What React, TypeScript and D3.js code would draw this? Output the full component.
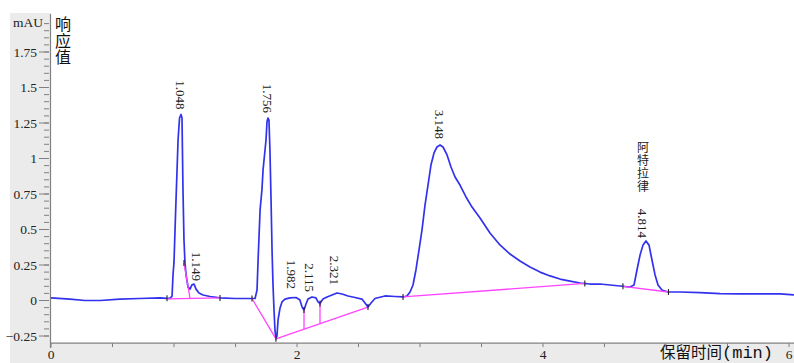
import React from "react";
import * as d3 from "d3";

const times = [0, 0.154, 0.276, 0.4, 0.56, 0.72, 0.886, 0.943, 0.967, 0.984,
  0.992, 1.0, 1.016, 1.024, 1.033, 1.045, 1.057, 1.065, 1.073, 1.081,
  1.089, 1.098, 1.114, 1.13, 1.146, 1.163, 1.179, 1.203, 1.236, 1.293,
  1.374, 1.496, 1.618, 1.659, 1.675, 1.683, 1.7, 1.715, 1.724, 1.74,
  1.748, 1.756, 1.764, 1.772, 1.78, 1.789, 1.797, 1.805, 1.813, 1.821,
  1.829, 1.837, 1.846, 1.862, 1.878, 1.902, 1.943, 1.992, 2.024, 2.041,
  2.057, 2.073, 2.089, 2.122, 2.154, 2.171, 2.187, 2.211, 2.244, 2.285,
  2.325, 2.366, 2.415, 2.472, 2.528, 2.553, 2.577, 2.602, 2.634, 2.715,
  2.797, 2.862, 2.894, 2.919, 2.943, 2.967, 2.992, 3.016, 3.041, 3.065,
  3.089, 3.114, 3.138, 3.163, 3.187, 3.22, 3.252, 3.285, 3.325, 3.374,
  3.423, 3.488, 3.569, 3.65, 3.732, 3.813, 3.894, 3.976, 4.057, 4.138,
  4.22, 4.301, 4.382, 4.463, 4.545, 4.626, 4.707, 4.74, 4.764, 4.789,
  4.813, 4.837, 4.862, 4.886, 4.911, 4.935, 4.967, 5.016, 5.114, 5.276,
  5.439, 5.6, 5.764, 5.927, 6.04];

const signal = [0.018, 0.01, 0, 0, 0.01, 0.014, 0.018, 0.015, 0.015, 0.03,
  0.18, 0.27, 0.7, 0.9, 1.13, 1.285, 1.31, 1.285, 0.78, 0.43,
  0.27, 0.18, 0.095, 0.08, 0.11, 0.116, 0.08, 0.053, 0.039, 0.028,
  0.018, 0.014, 0.014, 0.014, 0.074, 0.27, 0.64, 0.78, 0.92, 1.06,
  1.13, 1.257, 1.285, 1.27, 1.06, 0.71, 0.356, 0.11, -0.067, -0.208,
  -0.27, -0.25, -0.137, -0.053, -0.01, 0.01, 0.018, 0.021, 0.004, -0.046,
  -0.067, -0.025, 0.01, 0.025, 0.018, -0.01, -0.021, 0.01, 0.025, 0.039,
  0.053, 0.046, 0.032, 0.021, 0.01, -0.018, -0.046, -0.018, 0.014, 0.032,
  0.028, 0.025, 0.032, 0.06, 0.109, 0.215, 0.356, 0.496, 0.673, 0.813,
  0.954, 1.039, 1.081, 1.095, 1.081, 1.025, 0.94, 0.87, 0.813, 0.729,
  0.658, 0.581, 0.475, 0.391, 0.327, 0.278, 0.236, 0.2, 0.173, 0.151,
  0.137, 0.123, 0.116, 0.116, 0.109, 0.102, 0.095, 0.109, 0.215, 0.32,
  0.39, 0.419, 0.39, 0.285, 0.18, 0.109, 0.074, 0.06, 0.06, 0.056,
  0.049, 0.046, 0.046, 0.046, 0.039];

// integration baselines [t1, v1, t2, v2]
const baselineSegments = [
  [0.943, 0.012, 1.374, 0.018],
  [1.081, 0.264, 1.13, 0.016],
  [1.634, 0.014, 1.829, -0.27],
  [1.829, -0.27, 2.577, -0.046],
  [2.862, 0.025, 4.34, 0.12],
  [4.65, 0.1, 5.02, 0.06],
];
// drop lines onto the 4th segment
const dropTimes = [2.057, 2.187];
const dropValues = [-0.067, -0.021];

// integration event marks
const eventTimes = [0.943, 1.081, 1.374, 1.634, 1.829, 2.057, 2.187, 2.577, 2.862, 4.34, 4.65, 5.02];
const eventValues = [0.015, 0.264, 0.018, 0.014, -0.27, -0.067, -0.021, -0.046, 0.025, 0.12, 0.1, 0.06];

const peakNames = ["1.048", "1.149", "1.756", "1.982", "2.115", "2.321", "3.148", "4.814"];
const peakLabelTimes = [1.057, 1.187, 1.764, 1.959, 2.106, 2.309, 3.163, 4.813];
const peakLabelValues = [1.345, 0.137, 1.32, 0.081, 0.06, 0.109, 1.137, 0.44];
const compoundName = "阿特拉律";

const yMajorTicks = [-0.25, 0, 0.25, 0.5, 0.75, 1, 1.25, 1.5, 1.75];
const yTickLabels = ["\u22120.25", "0", "0.25", "0.5", "0.75", "1", "1.25", "1.5", "1.75"];
const xMajorTicks = [0, 2, 4, 6];
const xTickLabels = ["0", "2", "4", "6"];

const W = 794, H = 363;
const BLUE = "#3232ee";
const MAG = "#ff44ff";
const GRAY_BG = "#ebebeb";
const AXIS = "#808080";
const SERIF = "'Liberation Serif', 'Times New Roman', serif";
const CJK = "'Noto Sans CJK SC', sans-serif";

export default function App() {
  const x = d3.scaleLinear().domain([0, 6]).range([51, 789]);
  const y = d3.scaleLinear().domain([-0.3, 2.0]).range([343.1, 16.5]);

  const pts: [number, number][] = times.map((t, i) => [t, signal[i]]);
  const line = d3.line<[number, number]>().x((d) => x(d[0])).y((d) => y(d[1]));

  const minorY = d3.range(-0.25, 1.96, 0.05).map((v) => Math.round(v * 100) / 100);
  const minorX = d3.range(0, 6.01, 0.5);

  const seg = baselineSegments[3];
  const baseAt = (t: number) => seg[1] + ((t - seg[0]) / (seg[2] - seg[0])) * (seg[3] - seg[1]);

  const axisY = y(-0.3);
  const cx = x(4.813);
  const cTop = y(0.44) - 97;

  const vertical = { writingMode: "vertical-rl" as any, textOrientation: "upright" as any };

  return (
    <svg width={W} height={H} style={{ position: "absolute", left: 0, top: 0, background: "#fff" }}>
      {/* gray frame regions */}
      <rect x={10} y={13} width={41} height={H - 13} fill={GRAY_BG} />
      <rect x={10} y={axisY} width={W - 10} height={H - axisY} fill={GRAY_BG} />

      {/* y axis */}
      <line x1={50.5} x2={50.5} y1={14} y2={axisY + 5} stroke={AXIS} strokeWidth={1.2} />
      {minorY.map((v, i) => (
        <line key={"my" + i} x1={44} x2={49} y1={y(v)} y2={y(v)} stroke={AXIS} strokeWidth={1} />
      ))}
      {yMajorTicks.map((v, i) => (
        <g key={"Y" + i}>
          <line x1={39} x2={49} y1={y(v)} y2={y(v)} stroke={AXIS} strokeWidth={1} />
          <text x={37} y={y(v)} dy="0.35em" textAnchor="end" fontFamily={SERIF} fontSize={13.5} fill="#222">
            {yTickLabels[i]}
          </text>
        </g>
      ))}
      <text x={43} y={22} dy="0.35em" textAnchor="end" fontFamily={SERIF} fontSize={13.5} fill="#222">mAU</text>
      <text x={63} y={16} style={vertical} fontFamily={CJK} fontSize={16} letterSpacing={0.5} fill="#111">响应值</text>

      {/* x axis */}
      <line x1={50.5} x2={W} y1={axisY} y2={axisY} stroke={AXIS} strokeWidth={1.2} />
      {minorX.map((t, i) => (
        <line key={"mx" + i} x1={x(t)} x2={x(t)} y1={axisY} y2={axisY + 4} stroke={AXIS} strokeWidth={1} />
      ))}
      {xMajorTicks.map((t, i) => (
        <text key={"X" + i} x={x(t)} y={359} textAnchor="middle" fontFamily={SERIF} fontSize={13.5} fill="#222">
          {xTickLabels[i]}
        </text>
      ))}
      <text x={660} y={358} fill="#111">
        <tspan fontFamily={CJK} fontSize={15.5}>保留时间</tspan>
        <tspan fontFamily="'Liberation Mono', monospace" fontSize={17}>(min)</tspan>
      </text>

      {/* signal */}
      <path d={line(pts) || ""} fill="none" stroke={BLUE} strokeWidth={1.7} strokeLinejoin="round" />

      {/* integration baselines */}
      {baselineSegments.map((s, i) => (
        <line key={"b" + i} x1={x(s[0])} y1={y(s[1])} x2={x(s[2])} y2={y(s[3])} stroke={MAG} strokeWidth={1.3} />
      ))}
      {dropTimes.map((t, i) => (
        <line key={"d" + i} x1={x(t)} x2={x(t)} y1={y(dropValues[i])} y2={y(baseAt(t))} stroke={MAG} strokeWidth={1.3} />
      ))}
      {eventTimes.map((t, i) => (
        <line key={"e" + i} x1={x(t)} x2={x(t)} y1={y(eventValues[i]) - 3} y2={y(eventValues[i]) + 3} stroke="#222" strokeWidth={1.1} />
      ))}

      {/* peak labels */}
      {peakNames.map((n, i) => {
        const px = x(peakLabelTimes[i]);
        const py = y(peakLabelValues[i]);
        return (
          <text key={"p" + i} transform={`translate(${px},${py}) rotate(90)`} textAnchor="end" dy="0.35em"
            fontFamily={SERIF} fontSize={13} fill="#222">{n}</text>
        );
      })}
      <text x={cx} y={cTop} style={vertical} fontFamily={CJK} fontSize={12} letterSpacing={1} fill="#222">{compoundName}</text>
    </svg>
  );
}
